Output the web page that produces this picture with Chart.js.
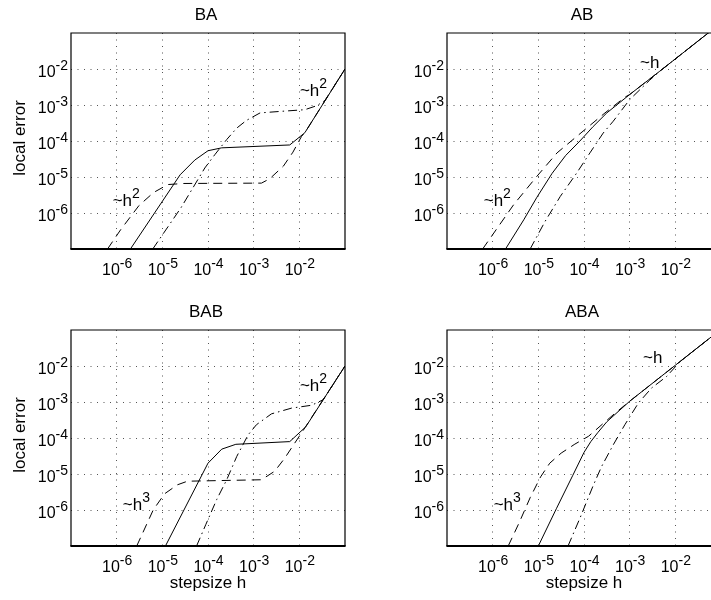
<!DOCTYPE html>
<html><head><meta charset="utf-8">
<script src="https://cdn.jsdelivr.net/npm/chart.js@4/dist/chart.umd.min.js"></script>
<style>
html,body{margin:0;padding:0;background:#fff;overflow:hidden;width:711px;height:600px;position:relative;}
canvas{position:absolute;}
</style></head><body>
<canvas id="cBA" width="360" height="300" style="left:0px;top:0px"></canvas>
<canvas id="cAB" width="380" height="300" style="left:355px;top:0px"></canvas>
<canvas id="cBAB" width="360" height="305" style="left:0px;top:295px"></canvas>
<canvas id="cABA" width="380" height="305" style="left:355px;top:295px"></canvas>
<script>
// ---------- axis ticks ----------
const xTickValues = [1e-6, 1e-5, 1e-4, 1e-3, 1e-2];
const yTickValues = [1e-6, 1e-5, 1e-4, 1e-3, 1e-2];
const tickBase = '10';
const xTickExponents = ['-6', '-5', '-4', '-3', '-2'];
const yTickExponents = ['-6', '-5', '-4', '-3', '-2'];
const axisMin = 1e-7, axisMax = 1e-1;
const xTitle = 'stepsize h';
const yTitle = 'local error';

// ---------- BA ----------
const BA_solid_h   = [2.0e-6, 2.45e-5, 5.13e-5, 1.0e-4, 2.0e-4, 6.17e-3, 1.32e-2, 1.0e-1];
const BA_solid_err = [1.0e-7, 1.15e-5, 2.95e-5, 5.37e-5, 6.46e-5, 7.76e-5, 1.70e-4, 1.0e-2];
const BA_dash_h    = [6.31e-7, 1.23e-6, 3.09e-6, 6.46e-6, 1.32e-5, 2.95e-5, 1.48e-3, 2.24e-3, 4.47e-3, 7.24e-3, 1.12e-2, 1.32e-2, 1.0e-1];
const BA_dash_err  = [1.0e-7, 3.47e-7, 1.62e-6, 3.72e-6, 6.17e-6, 6.61e-6, 6.76e-6, 8.91e-6, 2.0e-5, 4.90e-5, 1.35e-4, 1.70e-4, 1.0e-2];
const BA_dd_h      = [6.17e-6, 2.57e-5, 8.51e-5, 1.41e-4, 2.57e-4, 4.27e-4, 6.92e-4, 1.38e-3, 4.07e-3, 1.32e-2, 2.40e-2, 3.63e-2, 1.0e-1];
const BA_dd_err    = [1.0e-7, 1.41e-6, 1.78e-5, 4.17e-5, 1.10e-4, 2.29e-4, 3.72e-4, 6.03e-4, 6.68e-4, 7.41e-4, 9.55e-4, 1.33e-3, 1.0e-2];

// ---------- AB ----------
const AB_solid_h   = [1.91e-6, 4.79e-6, 9.33e-6, 2.0e-5, 3.98e-5, 8.13e-5, 1.58e-4, 3.16e-4, 1.0e-3, 4.57e-3, 5.25e-2, 1.0e-1];
const AB_solid_err = [1.0e-7, 6.46e-7, 2.75e-6, 1.26e-5, 3.98e-5, 1.0e-4, 2.51e-4, 6.03e-4, 1.95e-3, 8.71e-3, 1.0e-1, 1.91e-1];
const AB_dash_h    = [6.03e-7, 2.88e-6, 9.33e-6, 2.57e-5, 1.15e-4, 2.88e-4, 7.94e-4, 1.0e-3, 4.57e-3, 5.25e-2, 1.0e-1];
const AB_dash_err  = [1.0e-7, 1.70e-6, 1.05e-5, 4.68e-5, 2.29e-4, 6.03e-4, 1.66e-3, 1.95e-3, 8.71e-3, 1.0e-1, 1.91e-1];
const AB_dd_h      = [6.61e-6, 1.41e-5, 3.02e-5, 6.92e-5, 1.35e-4, 2.63e-4, 4.37e-4, 1.0e-3, 2.75e-3, 4.57e-3, 5.25e-2, 1.0e-1];
const AB_dd_err    = [1.0e-7, 5.89e-7, 2.88e-6, 1.29e-5, 4.68e-5, 1.66e-4, 3.55e-4, 1.41e-3, 4.90e-3, 8.71e-3, 1.0e-1, 1.91e-1];

// ---------- BAB ----------
const BAB_solid_h   = [1.17e-5, 1.0e-4, 2.0e-4, 4.07e-4, 6.17e-3, 1.38e-2, 1.0e-1];
const BAB_solid_err = [1.0e-7, 2.0e-5, 4.90e-5, 6.68e-5, 7.94e-5, 2.04e-4, 1.0e-2];
const BAB_dash_h    = [2.75e-6, 6.31e-6, 1.12e-5, 2.14e-5, 3.55e-5, 1.48e-3, 2.88e-3, 4.79e-3, 7.94e-3, 1.32e-2, 1.0e-1];
const BAB_dash_err  = [1.0e-7, 1.0e-6, 2.82e-6, 5.01e-6, 6.31e-6, 6.92e-6, 1.19e-5, 2.75e-5, 7.24e-5, 1.91e-4, 1.0e-2];
const BAB_dd_h      = [5.62e-5, 8.91e-5, 1.55e-4, 2.57e-4, 4.27e-4, 7.59e-4, 1.15e-3, 2.45e-3, 6.76e-3, 1.86e-2, 3.31e-2, 4.17e-2, 1.0e-1];
const BAB_dd_err    = [1.0e-7, 3.89e-7, 1.95e-6, 6.92e-6, 3.09e-5, 1.23e-4, 2.34e-4, 4.68e-4, 6.76e-4, 8.13e-4, 1.15e-3, 1.78e-3, 1.0e-2];

// ---------- ABA ----------
const ABA_solid_h   = [1.0e-5, 2.51e-5, 5.62e-5, 1.0e-4, 1.41e-4, 2.0e-4, 3.16e-4, 1.0e-3, 1.0e-2, 1.0e-1];
const ABA_solid_err = [1.0e-7, 1.12e-6, 8.91e-6, 3.98e-5, 7.94e-5, 1.41e-4, 2.82e-4, 1.05e-3, 1.05e-2, 1.05e-1];
const ABA_dash_h    = [2.19e-6, 3.72e-6, 6.61e-6, 1.12e-5, 1.78e-5, 3.16e-5, 6.31e-5, 1.26e-4, 2.51e-4, 5.01e-4, 1.0e-3, 1.0e-2, 1.0e-1];
const ABA_dash_err  = [1.0e-7, 4.17e-7, 2.19e-6, 8.32e-6, 2.0e-5, 3.80e-5, 6.76e-5, 1.12e-4, 2.40e-4, 5.13e-4, 1.05e-3, 1.05e-2, 1.05e-1];
const ABA_dd_h      = [4.47e-5, 8.32e-5, 1.58e-4, 2.43e-4, 4.37e-4, 7.85e-4, 1.55e-3, 3.02e-3, 6.46e-3, 1.26e-2, 1.0e-1];
const ABA_dd_err    = [1.0e-7, 6.31e-7, 4.68e-6, 1.62e-5, 6.46e-5, 2.34e-4, 9.33e-4, 2.45e-3, 5.13e-3, 1.32e-2, 1.05e-1];

// ---------- slope annotations (text, superscript, anchored at h / error) ----------
const BA_notes  = [{t:'~h', s:'2', h:1.03e-2, e:1.78e-3}, {t:'~h', s:'2', h:8.18e-7, e:1.59e-6}];
const AB_notes  = [{t:'~h', s:'',  h:1.68e-3, e:1.07e-2}, {t:'~h', s:'2', h:6.37e-7, e:1.59e-6}];
const BAB_notes = [{t:'~h', s:'2', h:1.03e-2, e:2.0e-3},  {t:'~h', s:'3', h:1.36e-6, e:1.02e-6}];
const ABA_notes = [{t:'~h', s:'',  h:1.96e-3, e:1.21e-2}, {t:'~h', s:'3', h:1.05e-6, e:1.02e-6}];

const FONT = '"Liberation Sans", Arial, Helvetica, sans-serif';

function pts(hs, es){ return hs.map((h,i)=>({x:h, y:es[i]})); }

function supText(ctx, base, sup, x, y, align, baseSize, supSize, raise){
  ctx.font = baseSize + 'px ' + FONT;
  const w1 = ctx.measureText(base).width;
  ctx.font = supSize + 'px ' + FONT;
  const w2 = sup ? ctx.measureText(sup).width : 0;
  const total = w1 + w2;
  let x0 = x;
  if (align === 'center') x0 = x - total/2;
  else if (align === 'right') x0 = x - total;
  ctx.textAlign = 'left';
  ctx.textBaseline = 'alphabetic';
  ctx.font = baseSize + 'px ' + FONT;
  ctx.fillText(base, x0, y);
  if (sup){ ctx.font = supSize + 'px ' + FONT; ctx.fillText(sup, x0 + w1, y - raise); }
}

const decorPlugin = {
  id: 'decor',
  afterDraw(chart){
    const o = chart.options.plugins.decor;
    const ctx = chart.ctx, ca = chart.chartArea;
    const xs = chart.scales.x, ys = chart.scales.y;
    ctx.save();
    ctx.fillStyle = '#000';
    ctx.strokeStyle = '#000';
    ctx.setLineDash([]);
    // box
    ctx.lineWidth = 1.2;
    ctx.beginPath();
    ctx.moveTo(ca.left, ca.bottom); ctx.lineTo(ca.left, ca.top);
    ctx.lineTo(ca.right, ca.top); ctx.lineTo(ca.right, ca.bottom);
    ctx.stroke();
    ctx.lineWidth = 2;
    ctx.beginPath();
    ctx.moveTo(ca.left - 0.6, ca.bottom); ctx.lineTo(ca.right + 0.6, ca.bottom);
    ctx.stroke();
    // x tick labels
    xTickValues.forEach((v,i)=>{
      const px = xs.getPixelForValue(v);
      supText(ctx, tickBase, xTickExponents[i], px + 0.5, ca.bottom + 26, 'center', 16, 14, 7);
    });
    // y tick labels
    yTickValues.forEach((v,i)=>{
      const py = ys.getPixelForValue(v);
      supText(ctx, tickBase, yTickExponents[i], ca.left - 3, py + 8, 'right', 16, 14, 7);
    });
    // title
    ctx.font = '17px ' + FONT;
    ctx.textAlign = 'center';
    ctx.fillText(o.title, (ca.left + ca.right)/2 - 2, ca.top - 13);
    // axis titles
    if (o.yTitle){
      ctx.save();
      ctx.translate(ca.left - 46, (ca.top + ca.bottom)/2 - 3);
      ctx.rotate(-Math.PI/2);
      ctx.font = '17px ' + FONT;
      ctx.textAlign = 'center';
      ctx.fillText(yTitle, 0, 0);
      ctx.restore();
    }
    if (o.xTitle){
      ctx.font = '17px ' + FONT;
      ctx.textAlign = 'center';
      ctx.fillText(xTitle, (ca.left + ca.right)/2, ca.bottom + 42);
    }
    // annotations
    o.notes.forEach(n=>{
      supText(ctx, n.t, n.s, xs.getPixelForValue(n.h), ys.getPixelForValue(n.e), 'left', 17, 14, 8);
    });
    ctx.restore();
  }
};

function makeChart(id, pad, title, solid, dash, dd, notes, showY, showX){
  const lineDs = (data, dashPat) => ({
    data, borderColor:'#000', borderWidth:1, borderDash:dashPat, pointRadius:0,
    pointHoverRadius:0, tension:0, fill:false, clip:0, showLine:true
  });
  const axis = (ticksList) => ({
    type:'logarithmic', min:axisMin, max:axisMax, offset:false,
    afterBuildTicks: (s)=>{ s.ticks = ticksList.map(v=>({value:v})); },
    ticks:{display:false},
    grid:{display:true, drawTicks:false, tickLength:0, color:'#555', lineWidth:1, borderDash:[1,5.5]},
    border:{display:false, dash:[1,5.5]},
    title:{display:false}
  });
  return new Chart(document.getElementById(id), {
    type:'line',
    data:{datasets:[lineDs(solid, []), lineDs(dash, [9,6]), lineDs(dd, [9,4,1.5,4])]},
    options:{
      responsive:false, animation:false, devicePixelRatio:1,
      layout:{padding:pad},
      scales:{x:axis(xTickValues), y:axis(yTickValues)},
      plugins:{legend:{display:false}, tooltip:{enabled:false}, title:{display:false},
        decor:{title, notes, yTitle:showY, xTitle:showX}},
      events:[]
    },
    plugins:[decorPlugin]
  });
}

makeChart('cBA',  {left:71, top:33, right:15, bottom:51}, 'BA',
  pts(BA_solid_h, BA_solid_err), pts(BA_dash_h, BA_dash_err), pts(BA_dd_h, BA_dd_err), BA_notes, true, false);
makeChart('cAB',  {left:92, top:33, right:14, bottom:51}, 'AB',
  pts(AB_solid_h, AB_solid_err), pts(AB_dash_h, AB_dash_err), pts(AB_dd_h, AB_dd_err), AB_notes, false, false);
makeChart('cBAB', {left:71, top:35, right:15, bottom:54}, 'BAB',
  pts(BAB_solid_h, BAB_solid_err), pts(BAB_dash_h, BAB_dash_err), pts(BAB_dd_h, BAB_dd_err), BAB_notes, true, true);
makeChart('cABA', {left:92, top:35, right:14, bottom:54}, 'ABA',
  pts(ABA_solid_h, ABA_solid_err), pts(ABA_dash_h, ABA_dash_err), pts(ABA_dd_h, ABA_dd_err), ABA_notes, false, true);
</script>
</body></html>
